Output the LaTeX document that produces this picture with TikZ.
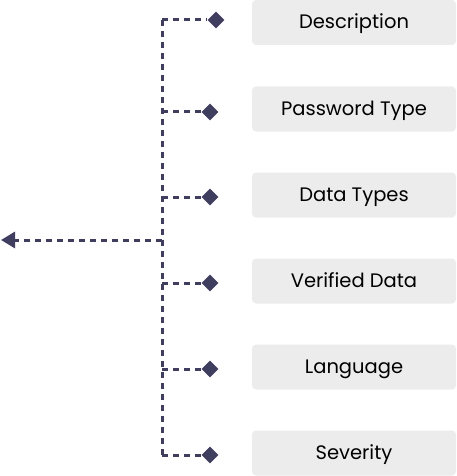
\documentclass[tikz,border=0pt]{standalone}
\usepackage{fontspec}
\setmainfont{Poppins}
\usetikzlibrary{shapes.geometric, arrows.meta}
\definecolor{linkcol}{HTML}{403E5F}
\definecolor{boxcol}{HTML}{ECECEC}

\begin{document}
\begin{tikzpicture}[x=1pt, y=-1pt]
        \tikzstyle{field}=[fill=boxcol, rounded corners=4pt, minimum width=204pt, minimum height=45pt, inner sep=0pt, text height=15pt, text depth=3pt, font=\fontsize{19.5}{22}\selectfont, text=black]
        \tikzstyle{tip}=[diamond, fill=linkcol, inner sep=0pt, minimum width=17pt, minimum height=17pt]
        \tikzstyle{link}=[draw=linkcol, line width=3pt, dash pattern=on 6pt off 5pt]
        \useasboundingbox (0,0) rectangle (456,476);

        % fields on the right
        \node[field] at (354, 22.5) (f1) {Description};
        \node[field] at (354, 109) (f2) {Password Type};
        \node[field] at (354, 195) (f3) {Data Types};
        \node[field] at (354, 281) (f4) {Verified Data};
        \node[field] at (354, 367) (f5) {Language};
        \node[field] at (354, 453) (f6) {Severity};

        % diamonds and trunk points
        \node[tip] at (216, 20) (d1) {};
        \coordinate (t1) at (162, 20);
        \foreach \i/\y in {2/112, 3/197, 4/283, 5/369, 6/455} {
            \node[tip] at (210, \y) (d\i) {};
            \coordinate (t\i) at (162, \y);
        }
        \coordinate (hub) at (162, 240);
        \coordinate (out) at (1, 240);

        \draw[link] (t1) -- (t6);
        \foreach \i in {1,...,6} \draw[link] (t\i) -- (d\i);
        \draw[link, -{Triangle[length=14pt, width=16pt]}] (hub) -- (out);
\end{tikzpicture}
\end{document}
